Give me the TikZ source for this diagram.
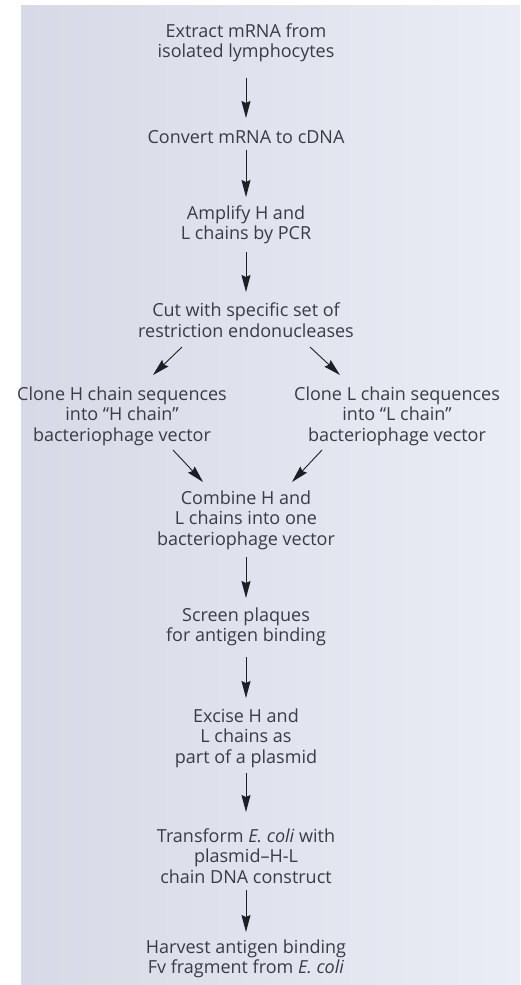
\documentclass[tikz,border=0pt]{standalone}
\usepackage{fontspec}
\setmainfont{Open Sans}
\usetikzlibrary{arrows.meta}
\definecolor{panelL}{HTML}{D7D9E6}
\definecolor{panelR}{HTML}{EAEDF5}
\definecolor{ink}{HTML}{3A3B44}
\definecolor{arrowink}{HTML}{1E1F26}
\begin{document}
\begin{tikzpicture}[x=1pt,y=-1pt,
  stepbox/.style={align=center,inner sep=0pt,text=ink,
    font=\fontsize{18}{20.5}\selectfont},
  flow/.style={draw=arrowink,line width=0.9pt,
    -{Stealth[length=17pt,width=9pt,inset=2pt]}}]
  % page and shaded panel
  \useasboundingbox (0,0) rectangle (520,985);
  \fill[white] (0,0) rectangle (520,985);
  \shade[left color=panelL,right color=panelR] (21,5) rectangle (520,985);

  % steps
  \node[stepbox] (extract) at (246,43) {Extract mRNA from\\isolated lymphocytes};
  \node[stepbox] (convert) at (246,137) {Convert mRNA to cDNA};
  \node[stepbox] (amplify) at (246,225) {Amplify H and\\L chains by PCR};
  \node[stepbox] (cut) at (246,320) {Cut with specific set of\\restriction endonucleases};
  \node[stepbox] (cloneH) at (122,416) {Clone H chain sequences\\into ``H chain''\\bacteriophage vector};
  \node[stepbox] (cloneL) at (397,416) {Clone L chain sequences\\into ``L chain''\\bacteriophage vector};
  \node[stepbox] (combine) at (246,520) {Combine H and\\L chains into one\\bacteriophage vector};
  \node[stepbox] (screen) at (246,627) {Screen plaques\\for antigen binding};
  \node[stepbox] (excise) at (246,738) {Excise H and\\L chains as\\part of a plasmid};
  \node[stepbox] (transform) at (246,856) {Transform \textit{E. coli} with\\plasmid--H-L\\chain DNA construct};
  \node[stepbox] (harvest) at (246,959) {Harvest antigen binding\\Fv fragment from \textit{E. coli}};

  % connectors (end points offset from the step centres)
  \draw[flow] ([yshift=-35pt]extract.center) -- ([yshift=19pt]convert.center);
  \draw[flow] ([yshift=-13pt]convert.center) -- ([yshift=28pt]amplify.center);
  \draw[flow] ([yshift=-27pt]amplify.center) -- ([yshift=28pt]cut.center);
  \draw[flow] ([xshift=-64pt,yshift=-27pt]cut.center) -- ([xshift=31pt,yshift=41pt]cloneH.center);
  \draw[flow] ([xshift=64pt,yshift=-27pt]cut.center) -- ([xshift=-57pt,yshift=41pt]cloneL.center);
  \draw[flow] ([xshift=51pt,yshift=-34pt]cloneH.center) -- ([xshift=-43pt,yshift=38pt]combine.center);
  \draw[flow] ([xshift=-75pt,yshift=-34pt]cloneL.center) -- ([xshift=46pt,yshift=38pt]combine.center);
  \draw[flow] ([yshift=-37pt]combine.center) -- ([yshift=29pt]screen.center);
  \draw[flow] ([yshift=-30pt]screen.center) -- ([yshift=40pt]excise.center);
  \draw[flow] ([yshift=-35pt]excise.center) -- ([yshift=44pt]transform.center);
  \draw[flow] ([yshift=-34pt]transform.center) -- ([yshift=27pt]harvest.center);
\end{tikzpicture}
\end{document}
